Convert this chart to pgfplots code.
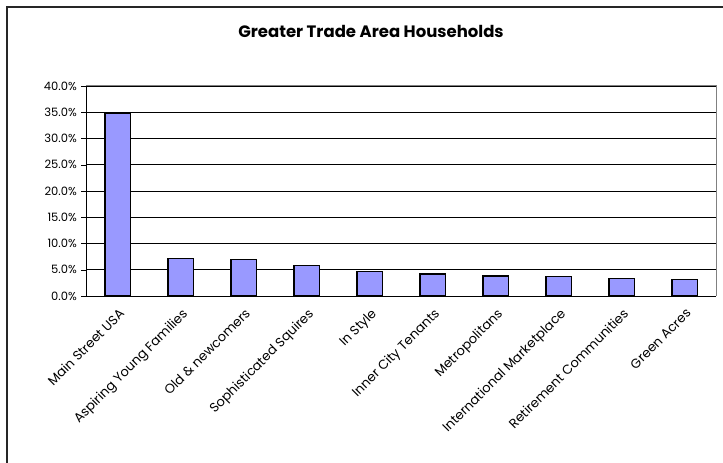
\documentclass[border=0pt]{standalone}
\usepackage{pgfplots}
\pgfplotsset{compat=1.18}
\usepackage{fontspec}
\setmainfont{Poppins}
\definecolor{barfill}{HTML}{9999FF}
\begin{document}
\begin{tikzpicture}[x=1pt,y=1pt]
\useasboundingbox (0,0) rectangle (723,463);
\draw[line width=1.6pt, black!85] (7,-20) rectangle (760,456);
\node[font=\fontsize{16.5}{19}\selectfont\bfseries] at (371,432) {Greater Trade Area Households};
\begin{axis}[
  at={(86pt,167pt)}, anchor=south west,
  width=630pt, height=210pt, scale only axis,
  xmin=-0.5, xmax=9.5, ymin=0, ymax=40,
  ybar, bar width=25.2pt,
  xtick={0,...,9},
  xticklabels={Main Street USA, Aspiring Young Families, Old \& newcomers, Sophisticated Squires, In Style, Inner City Tenants, Metropolitans, International Marketplace, Retirement Communities, Green Acres},
  x tick label style={rotate=45, anchor=north east, font=\fontsize{13}{15}\selectfont, inner sep=1pt, xshift=-3pt, yshift=-4pt},
  major x tick style={draw=none},
  extra x ticks={-0.5,0.5,...,9.5},
  extra x tick labels={},
  extra x tick style={grid=none, major tick length=5pt, major tick style={draw=black, thin}},
  ytick={0,5,...,40},
  yticklabel={\pgfmathprintnumber[fixed,fixed zerofill,precision=1]{\tick}\%},
  /pgf/number format/assume math mode=true,
  y tick label style={font=\fontsize{11.5}{13}\selectfont, inner sep=1pt, xshift=-3pt},
  ymajorgrids, grid style={black, line width=0.5pt},
  major y tick style={black, thin},
  major tick length=5pt,
  tick align=outside,
  xtick pos=bottom, ytick pos=left,
  axis line style={draw=none},
  clip=false,
]
\addplot[fill=barfill, draw=black, line width=1.2pt] coordinates {
 (0,34.8) (1,7.1) (2,6.9) (3,5.8) (4,4.7) (5,4.2) (6,3.8) (7,3.7) (8,3.4) (9,3.2)};
\draw[gray, line width=1pt] (rel axis cs:0,1) -- (rel axis cs:1,1) -- (rel axis cs:1,0);
\draw[black, line width=0.8pt] (rel axis cs:0,1) -- (rel axis cs:0,0) -- (rel axis cs:1,0);
\end{axis}
\end{tikzpicture}
\end{document}
